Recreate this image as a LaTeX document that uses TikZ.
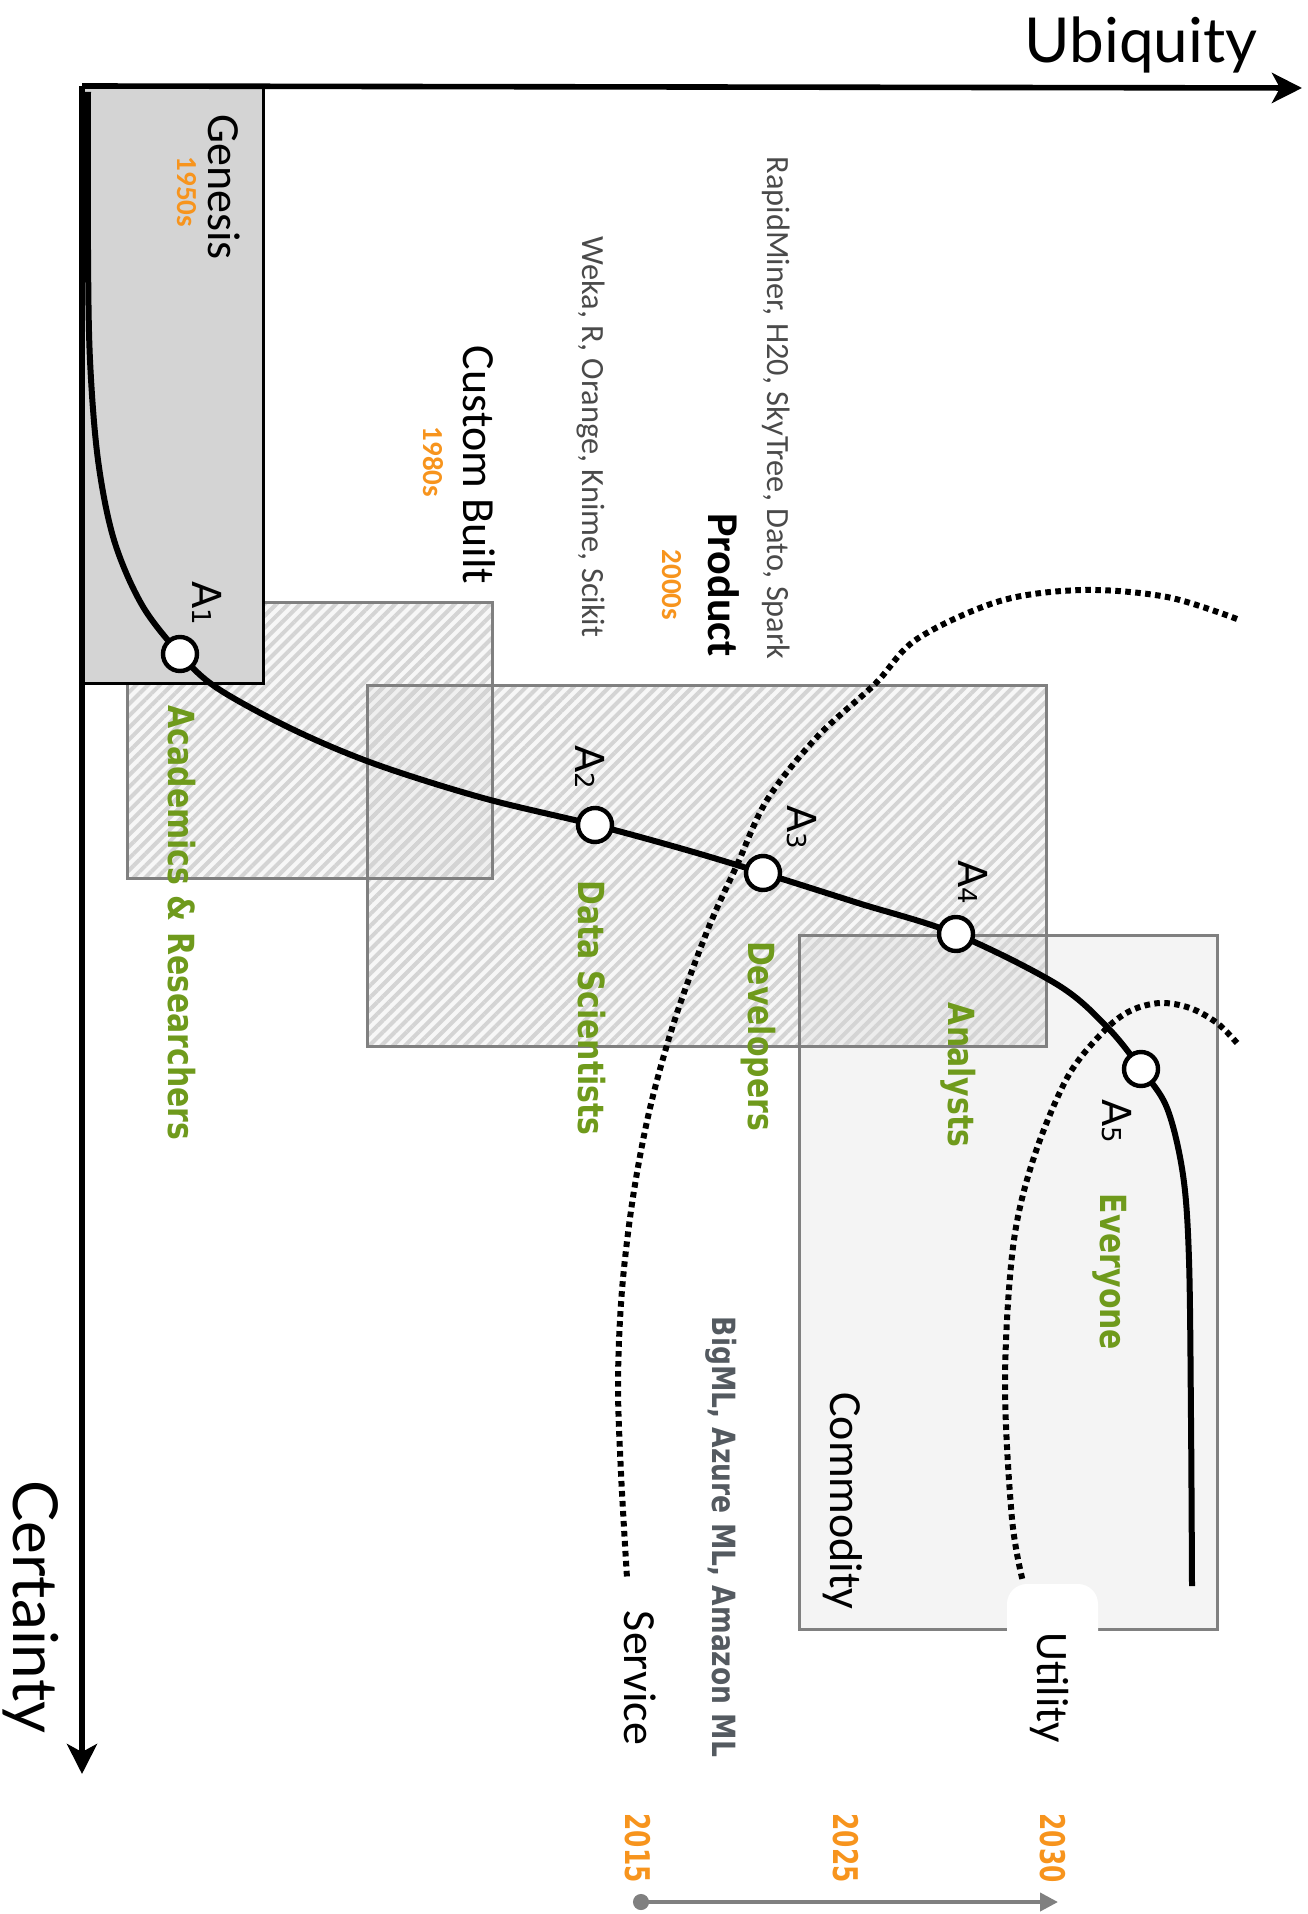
\documentclass[tikz,border=0pt]{standalone}
\usepackage{fontspec}
\setmainfont{Carlito}
\newfontfamily\axisfont{Lato}
\newfontfamily\afont{DejaVu Sans}
\newfontfamily\grnfont[FakeStretch=0.83]{DejaVu Sans Bold}
\newfontfamily\yrfont[FakeStretch=0.73]{DejaVu Sans Bold}
\usetikzlibrary{arrows.meta,patterns.meta}

\definecolor{ageorange}{HTML}{F7941D}
\definecolor{usergreen}{HTML}{6F9A1C}
\definecolor{toolgray}{HTML}{4A4A4A}
\definecolor{svcgray}{HTML}{545A60}
\definecolor{genfill}{HTML}{D4D4D4}
\definecolor{comfill}{HTML}{F4F4F4}

\newcommand\setsize[1]{\fontsize{#1}{#1}\selectfont}

\tikzset{
  vlabel/.style={rotate=-90, anchor=base, inner sep=0pt},
  phase/.style={vlabel, font=\setsize{23pt}},
  era/.style={vlabel, font=\bfseries\setsize{14.5pt}, text=ageorange},
  tools/.style={vlabel, font=\setsize{16.2pt}, text=toolgray},
  user/.style={vlabel, font=\grnfont\setsize{18pt}, text=usergreen},
  year/.style={vlabel, font=\yrfont\setsize{17pt}, text=ageorange},
  alabel/.style={vlabel, font=\afont\setsize{20pt}},
  stage/.style={circle, draw=black, fill=white, line width=2.2pt, minimum size=17pt, inner sep=0pt},
  axis/.style={line width=2.8pt, -{Stealth[length=15pt,width=15pt,inset=4pt]}},
  hatch/.style={preaction={fill=black, fill opacity=0.03},
    pattern={Lines[angle=45,distance=4.2pt,line width=2pt]}, pattern color=black!17},
  boxline/.style={draw=black!50, line width=1.5pt},
  dotline/.style={line width=3pt, dash pattern=on 2.8pt off 2.2pt}
}

\begin{document}
\begin{tikzpicture}[x=0.5pt,y=-0.5pt]
\useasboundingbox (0,0) rectangle (1307,1914);

% phase boxes
\fill[comfill] (799,935) rectangle (1217,1629);
\fill[hatch] (127,602) rectangle (492,878);
\fill[hatch] (367,685) rectangle (1046,1046);
\draw[boxline] (799,935) rectangle (1217,1629);
\draw[boxline] (127,602) rectangle (492,878);
\draw[boxline] (367,685) rectangle (1046,1046);
\draw[fill=genfill, line width=1.5pt] (82,88) rectangle (263,683);

% phases and dates
\node[phase] (genesis) at (208,187) {Genesis};
\node[era] (d1950) at (177,192) {1950s};
\node[phase] (custom) at (463,465) {Custom Built};
\node[era] (d1980) at (423,462) {1980s};
\node[phase, font=\bfseries\setsize{22pt}] (product) at (708,585) {Product};
\node[era] (d2000) at (662,585) {2000s};
\node[phase] (commodity) at (830,1501) {Commodity};

% tools
\node[tools] (weka) at (582,437) {Weka, R, Orange, Knime, Scikit};
\node[tools] (rapid) at (767,408) {RapidMiner, H20, SkyTree, Dato, Spark};
\node[vlabel, font=\grnfont\setsize{16pt}, text=svcgray] (bigml) at (712,1537) {BigML, Azure ML, Amazon ML};

% users
\node[user] (acad) at (168,923) {Academics \& Researchers};
\node[user] (datasci) at (578,1008) {Data Scientists};
\node[user] (devs) at (748,1036) {Developers};
\node[user] (analysts) at (948,1075) {Analysts};
\node[user] (everyone) at (1100,1272) {Everyone};

% service and utility frontiers
\draw[dotline] plot[smooth, tension=0.55] coordinates {(1237,619) (1167,597) (1083,590) (1000,601) (917,639)
  (875,684) (817,737) (767,800) (737,865) (708,929) (675,1019) (650,1108) (633,1197) (622,1290)
  (618,1382) (621,1473) (627,1578)};
\draw[dotline] plot[smooth, tension=0.55] coordinates {(1237,1043) (1217,1023) (1190,1008) (1160,1003)
  (1130,1011) (1103,1032) (1067,1078) (1033,1160) (1013,1247) (1005,1382) (1012,1519) (1023,1582)};
\fill[white, rounded corners=10pt] (1007,1584) rectangle (1098,1800);
\node[phase, font=\setsize{23pt}] (service) at (624,1678) {Service};
\node[phase, font=\setsize{22.5pt}] (utility) at (1037,1688) {Utility};

% evolution curve
\coordinate (a1) at (180,654);
\coordinate (a2) at (595,825);
\coordinate (a3) at (763,873);
\coordinate (a4) at (956,934);
\coordinate (a5) at (1141,1069);
\draw[line width=3pt] plot[smooth, tension=0.55] coordinates {(88,92) (88,250) (90,360) (98,460)
  (114,540) (142,605) (a1) (217,688) (292,729) (375,764) (483,798) (a2) (683,849) (a3) (858,903)
  (a4) (1058,985) (1108,1028) (a5) (1167,1108) (1183,1175) (1189,1260) (1191,1420) (1192,1586)};
\foreach \i in {1,...,5}
  \node[stage] (A\i) at (a\i) {};
\node[alabel] (lab1) at (192,603) {A{\setsize{13pt}1}};
\node[alabel] (lab2) at (575,767) {A{\setsize{13pt}2}};
\node[alabel] (lab3) at (787,827) {A{\setsize{13pt}3}};
\node[alabel] (lab4) at (958,882) {A{\setsize{13pt}4}};
\node[alabel] (lab5) at (1102,1121) {A{\setsize{13pt}5}};

% axes
\coordinate (origin) at (82,86);
\coordinate (xend) at (1302,88);
\coordinate (yend) at (82,1774);
\draw[axis] (origin) -- (xend);
\draw[axis] (origin) -- (yend);
\node[font=\axisfont\setsize{31pt}, anchor=base, inner sep=0pt] (ubiq) at (1141,63) {Ubiquity};
\node[vlabel, font=\axisfont\setsize{31pt}] (cert) at (13,1607) {Certainty};

% timeline
\coordinate (t0) at (633,1902);
\coordinate (t1) at (1058,1902);
\draw[black!50, line width=2pt, {Circle[length=8pt]}-{Triangle[length=9pt,width=9pt]}] (t0) -- (t1);
\node[year] (y2015) at (625,1848) {2015};
\node[year] (y2025) at (833,1848) {2025};
\node[year] (y2030) at (1040,1848) {2030};
\end{tikzpicture}
\end{document}
